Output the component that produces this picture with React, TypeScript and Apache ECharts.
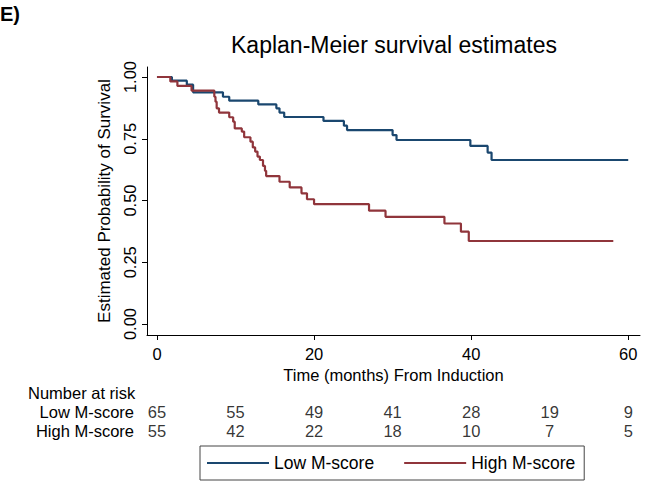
import React, { useEffect, useRef } from "react";
import * as echarts from "echarts";

const FONT = "'Liberation Sans', Arial, Helvetica, sans-serif";
const BLUE = "#1a476f";
const RED = "#90353b";

// Kaplan-Meier step data
const lowTimes = [0, 1.9, 3.8, 4.6, 8.4, 9.2, 12.9, 15.2, 15.6, 16.2, 21.2, 23.8, 24.2, 30.0, 30.5, 39.9, 42.1, 42.6, 60.0];
const lowSurv = [1, 0.985, 0.969, 0.938, 0.92, 0.904, 0.889, 0.873, 0.856, 0.838, 0.822, 0.803, 0.785, 0.765, 0.745, 0.721, 0.694, 0.664, 0.664];

const highTimes = [0, 1.7, 2.6, 4.4, 7.3, 7.45, 7.6, 7.9, 9.2, 9.7, 9.9, 10.8, 11.1, 11.9, 12.2, 12.5, 12.8, 13.1, 13.5, 13.75, 13.9, 15.6, 16.9, 18.4, 19.1, 20.0, 27.0, 29.1, 36.6, 38.7, 39.7, 58.1];
const highSurv = [1, 0.982, 0.964, 0.945, 0.92, 0.9, 0.873, 0.856, 0.837, 0.819, 0.792, 0.779, 0.756, 0.738, 0.715, 0.698, 0.678, 0.664, 0.64, 0.62, 0.599, 0.576, 0.553, 0.529, 0.505, 0.485, 0.459, 0.434, 0.407, 0.374, 0.336, 0.336];

// Number at risk table
const riskTimes = [0, 10, 20, 30, 40, 50, 60];
const lowRisk = [65, 55, 49, 41, 28, 19, 9];
const highRisk = [55, 42, 22, 18, 10, 7, 5];
const groupNames = ["Low M-score", "High M-score"];

// Tick labels
const xTicks = [0, 20, 40, 60];
const yTicks = [0, 0.25, 0.5, 0.75, 1];

export default function App() {
  const ref = useRef<HTMLDivElement>(null);
  useEffect(() => {
    if (!ref.current) return;
    const chart = echarts.init(ref.current, null, { renderer: "svg" });
    const fs = 16.5;
    const option: any = {
      animation: false,
      backgroundColor: "#fff",
      textStyle: { fontFamily: FONT, color: "#000" },
      grid: [
        { left: 147, right: 5, top: 67, height: 268 },
        { left: 147, right: 5, top: 403, height: 37 },
      ],
      xAxis: [
        {
          type: "value",
          gridIndex: 0,
          min: -1.27,
          max: 61.5,
          name: "Time (months) From Induction",
          nameLocation: "middle",
          nameGap: 27,
          nameTextStyle: { fontSize: fs, color: "#000", fontFamily: FONT },
          axisLine: { show: true, onZero: false, lineStyle: { color: "#000", width: 1 } },
          axisTick: { show: true, length: 5, customValues: xTicks, lineStyle: { color: "#000" } },
          axisLabel: { customValues: xTicks, fontSize: fs, color: "#000", margin: 10, fontFamily: FONT },
          splitLine: { show: false },
        },
        { type: "value", gridIndex: 1, min: -1.27, max: 61.5, show: false },
      ],
      yAxis: [
        {
          type: "value",
          gridIndex: 0,
          min: -0.0445,
          max: 1.0405,
          name: "Estimated Probability of Survival",
          nameLocation: "middle",
          nameGap: 31,
          nameRotate: 90,
          nameTextStyle: { fontSize: 17, color: "#000", fontFamily: FONT },
          axisLine: { show: true, onZero: false, lineStyle: { color: "#000", width: 1 } },
          axisTick: { show: true, length: 5, customValues: yTicks, lineStyle: { color: "#000" } },
          axisLabel: {
            customValues: yTicks,
            rotate: 90,
            fontSize: fs,
            color: "#000",
            margin: 9,
            fontFamily: FONT,
            formatter: (v: number) => v.toFixed(2),
          },
          splitLine: { show: false },
        },
        {
          type: "category",
          gridIndex: 1,
          data: groupNames,
          inverse: true,
          axisLine: { show: false },
          axisTick: { show: false },
          splitLine: { show: false },
          axisLabel: { interval: 0, fontSize: fs, color: "#000", margin: 13, fontFamily: FONT },
        },
      ],
      legend: {
        data: groupNames,
        left: 200,
        top: 446,
        icon: "rect",
        itemWidth: 62,
        itemHeight: 2,
        itemGap: 30,
        padding: [8, 9, 8, 7],
        borderColor: "#444",
        borderWidth: 1,
        textStyle: { fontSize: 17.5, color: "#000", fontFamily: FONT },
      },
      graphic: [
        {
          type: "text",
          x: 0,
          y: 14,
          style: { text: "E)", fontSize: 20, fontWeight: "bold", fontFamily: FONT, fill: "#000", textVerticalAlign: "middle" },
        },
        {
          type: "text",
          x: 394,
          y: 45,
          style: {
            text: "Kaplan-Meier survival estimates",
            fontSize: 23,
            fontFamily: FONT,
            fill: "#000",
            textAlign: "center",
            textVerticalAlign: "middle",
          },
        },
        {
          type: "text",
          x: 28,
          y: 393,
          style: { text: "Number at risk", fontSize: fs, fontFamily: FONT, fill: "#000", textVerticalAlign: "middle" },
        },
      ],
      series: [
        {
          type: "line",
          name: groupNames[0],
          xAxisIndex: 0,
          yAxisIndex: 0,
          step: "end",
          symbol: "none",
          showSymbol: false,
          data: lowTimes.map((t, i) => [t, lowSurv[i]]),
          lineStyle: { color: BLUE, width: 2.2 },
          itemStyle: { color: BLUE },
        },
        {
          type: "line",
          name: groupNames[1],
          xAxisIndex: 0,
          yAxisIndex: 0,
          step: "end",
          symbol: "none",
          showSymbol: false,
          data: highTimes.map((t, i) => [t, highSurv[i]]),
          lineStyle: { color: RED, width: 2.2 },
          itemStyle: { color: RED },
        },
        ...[lowRisk, highRisk].map((arr, row) => ({
          type: "scatter",
          name: "risk-" + row,
          xAxisIndex: 1,
          yAxisIndex: 1,
          silent: true,
          symbolSize: 0,
          data: riskTimes.map((t, i) => [t, row, arr[i]]),
          label: {
            show: true,
            position: "inside",
            formatter: (p: any) => String(p.value[2]),
            fontSize: fs,
            color: "#000",
            fontFamily: FONT,
          },
        })),
      ],
    };
    chart.setOption(option);
    return () => chart.dispose();
  }, []);
  return (
    <div
      ref={ref}
      style={{ position: "absolute", left: 0, top: 0, width: 645, height: 485, background: "#fff" }}
    />
  );
}
